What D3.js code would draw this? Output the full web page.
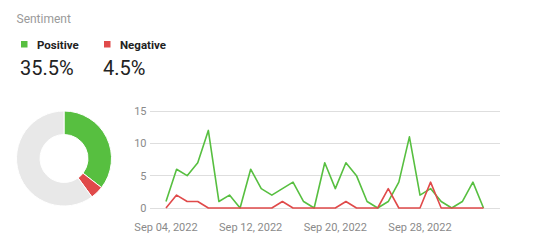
<!DOCTYPE html>
<html><head><meta charset="utf-8">
<script src="https://cdn.jsdelivr.net/npm/d3@7"></script>
<style>
html,body{margin:0;padding:0;background:#fff;}
svg{display:block;font-family:Roboto,"Noto Sans",sans-serif;}
</style></head>
<body><svg id="c" width="540" height="250"></svg>
<script>
const title = "Sentiment";
const legendLabels = ["Positive", "Negative"];
const legendValues = ["35.5%", "4.5%"];
const shareNames = ["Positive", "Negative", "Neutral"];
const shareValues = [35.5, 4.5, 60.0];
const startDate = "2022-09-04";
const positive = [1,6,5,7,12,1,2,0,6,3,2,3,4,1,0,7,3,7,5,1,0,1,4,11,2,3,1,0,1,4,0];
const negative = [0,2,1,1,0,0,0,0,0,0,0,1,0,0,0,0,0,1,0,0,0,3,0,0,0,4,0,0,0,0,0];
const yTicks = [0,5,10,15];
const xTickDates = ["2022-09-04","2022-09-12","2022-09-20","2022-09-28"];

const GREEN = "#57bf40", RED = "#e04a4a", GREY = "#e8e8e8";
const svg = d3.select("#c");
const parse = d3.utcParse("%Y-%m-%d");
const d0 = parse(startDate);
const dates = positive.map((_, i) => d3.utcDay.offset(d0, i));

svg.append("text").attr("x", 16.5).attr("y", 23).attr("font-size", 12)
  .attr("fill", "#9a9a9a").text(title);

const legX = [21, 104];
const legColors = [GREEN, RED];
legendLabels.forEach((l, i) => {
  svg.append("rect").attr("x", legX[i]).attr("y", 41).attr("width", 6.5).attr("height", 6.5).attr("fill", legColors[i]);
  svg.append("text").attr("x", legX[i] + 16).attr("y", 48.5).attr("font-size", 11.5)
    .attr("font-weight", "bold").attr("fill", "#222").text(l);
  svg.append("text").attr("x", legX[i] - 1).attr("y", 75).attr("font-size", 20)
    .attr("fill", "#222").text(legendValues[i]);
});

// donut
const pie = d3.pie().sort(null).value(d => d)(shareValues);
const arc = d3.arc().innerRadius(24).outerRadius(47.5);
const donutColors = [GREEN, RED, GREY];
svg.append("g").attr("transform", "translate(64,158.5)")
  .selectAll("path").data(pie).join("path")
  .attr("d", arc).attr("fill", (d, i) => donutColors[i])
  .attr("stroke", "#fff").attr("stroke-width", 1);

// line chart
const x = d3.scaleUtc().domain([dates[0], dates[dates.length - 1]]).range([166, 483.5]);
const y = d3.scaleLinear().domain([0, 15]).range([208, 111]);

const gy = svg.append("g");
gy.selectAll("line").data(yTicks).join("line")
  .attr("x1", 150).attr("x2", 500).attr("y1", d => y(d)).attr("y2", d => y(d))
  .attr("stroke", "#dedede").attr("stroke-width", 1).attr("shape-rendering", "crispEdges");
gy.selectAll("text").data(yTicks).join("text")
  .attr("x", 146.5).attr("y", d => y(d)).attr("dy", "0.35em").attr("text-anchor", "end")
  .attr("font-size", 11).attr("fill", "#8a8a8a").text(d => d);

const fmt = d3.utcFormat("%b %d, %Y");
svg.append("g").selectAll("text").data(xTickDates.map(parse)).join("text")
  .attr("x", d => x(d)).attr("y", 230.5).attr("text-anchor", "middle")
  .attr("font-size", 11).attr("fill", "#8a8a8a").text(d => fmt(d));

const line = d3.line().x((d, i) => x(dates[i])).y(d => y(d));
svg.append("path").datum(positive).attr("d", line).attr("fill", "none")
  .attr("stroke", GREEN).attr("stroke-width", 1.6).attr("stroke-linejoin", "round");
svg.append("path").datum(negative).attr("d", line).attr("fill", "none")
  .attr("stroke", RED).attr("stroke-width", 1.6).attr("stroke-linejoin", "round");
</script></body></html>
